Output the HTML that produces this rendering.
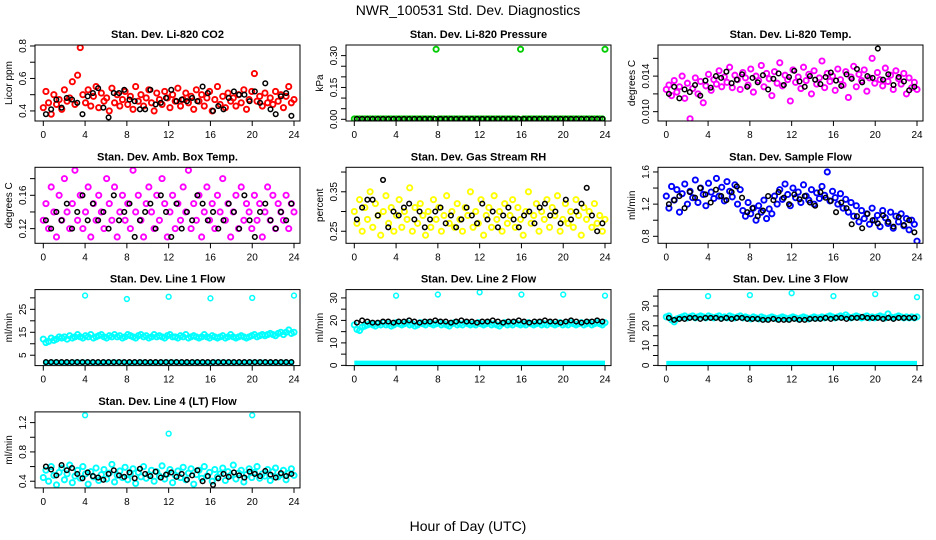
<!DOCTYPE html>
<html><head><meta charset="utf-8">
<style>
html,body{margin:0;padding:0;background:#fff;}
svg{display:block;font-family:"Liberation Sans",Helvetica,sans-serif;}
</style></head>
<body>
<svg id="chart" width="936" height="540" viewBox="0 0 936 540" xmlns="http://www.w3.org/2000/svg">
<text x="468" y="15" text-anchor="middle" font-size="14">NWR_100531  Std. Dev. Diagnostics</text>
<text x="468" y="531" text-anchor="middle" font-size="14">Hour of Day (UTC)</text>
</svg>
<script>
// ---- data (hours on x; std-dev values on y) ----
const co2Red=[0.42,0.52,0.45,0.38,0.50,0.44,0.47,0.41,0.53,0.46,0.48,0.58,0.44,0.62,0.79,0.50,0.45,0.53,0.43,0.49,0.55,0.42,0.51,0.46,0.48,0.40,0.54,0.45,0.50,0.43,0.47,0.52,0.44,0.49,0.41,0.55,0.46,0.50,0.43,0.48,0.53,0.45,0.40,0.51,0.47,0.44,0.52,0.48,0.42,0.50,0.46,0.54,0.43,0.47,0.51,0.45,0.49,0.41,0.53,0.46,0.50,0.43,0.48,0.52,0.40,0.47,0.55,0.44,0.49,0.42,0.51,0.46,0.48,0.43,0.50,0.45,0.53,0.41,0.47,0.52,0.63,0.46,0.49,0.43,0.51,0.45,0.48,0.44,0.52,0.46,0.50,0.42,0.49,0.55,0.45,0.47];
const co2Black=[0.38,0.41,0.47,0.42,0.48,0.47,0.45,0.38,0.49,0.51,0.54,0.42,0.36,0.51,0.51,0.53,0.47,0.46,0.41,0.41,0.53,0.44,0.45,0.48,0.53,0.46,0.47,0.46,0.48,0.46,0.55,0.51,0.40,0.43,0.41,0.48,0.52,0.50,0.50,0.46,0.52,0.45,0.57,0.41,0.38,0.49,0.51,0.37];
const presGreen=[0.002,0.002,0.002,0.002,0.002,0.002,0.002,0.002,0.002,0.002,0.002,0.002,0.002,0.002,0.002,0.002,0.002,0.002,0.002,0.002,0.002,0.002,0.002,0.002,0.002,0.002,0.002,0.002,0.002,0.002,0.002,0.33,0.002,0.002,0.002,0.002,0.002,0.002,0.002,0.002,0.002,0.002,0.002,0.002,0.002,0.002,0.002,0.002,0.002,0.002,0.002,0.002,0.002,0.002,0.002,0.002,0.002,0.002,0.002,0.002,0.002,0.002,0.002,0.33,0.002,0.002,0.002,0.002,0.002,0.002,0.002,0.002,0.002,0.002,0.002,0.002,0.002,0.002,0.002,0.002,0.002,0.002,0.002,0.002,0.002,0.002,0.002,0.002,0.002,0.002,0.002,0.002,0.002,0.002,0.002,0.33];
const presBlack=[0.002,0.002,0.002,0.002,0.002,0.002,0.002,0.002,0.002,0.002,0.002,0.002,0.002,0.002,0.002,0.002,0.002,0.002,0.002,0.002,0.002,0.002,0.002,0.002,0.002,0.002,0.002,0.002,0.002,0.002,0.002,0.002,0.002,0.002,0.002,0.002,0.002,0.002,0.002,0.002,0.002,0.002,0.002,0.002,0.002,0.002,0.002,0.002];
const tempMag=[0.0125,0.0130,0.0118,0.0135,0.0122,0.0128,0.0140,0.0115,0.0132,0.0092,0.0126,0.0138,0.0120,0.0134,0.0110,0.0129,0.0142,0.0124,0.0136,0.0131,0.0146,0.0128,0.0139,0.0133,0.0150,0.0127,0.0141,0.0136,0.0125,0.0144,0.0138,0.0130,0.0148,0.0122,0.0140,0.0135,0.0152,0.0128,0.0143,0.0137,0.0118,0.0145,0.0132,0.0155,0.0129,0.0141,0.0136,0.0112,0.0147,0.0133,0.0139,0.0126,0.0150,0.0135,0.0142,0.0120,0.0146,0.0131,0.0138,0.0157,0.0127,0.0143,0.0134,0.0140,0.0124,0.0148,0.0136,0.0130,0.0145,0.0116,0.0139,0.0151,0.0128,0.0142,0.0135,0.0147,0.0123,0.0138,0.0160,0.0132,0.0144,0.0136,0.0129,0.0149,0.0134,0.0141,0.0125,0.0146,0.0137,0.0131,0.0143,0.0120,0.0138,0.0127,0.0133,0.0125];
const tempBlack=[0.0120,0.0128,0.0115,0.0125,0.0122,0.0130,0.0118,0.0135,0.0127,0.0140,0.0138,0.0145,0.0132,0.0136,0.0142,0.0128,0.0138,0.0133,0.0141,0.0125,0.0137,0.0143,0.0130,0.0139,0.0146,0.0134,0.0128,0.0140,0.0136,0.0131,0.0139,0.0144,0.0135,0.0129,0.0142,0.0137,0.0148,0.0133,0.0140,0.0138,0.0171,0.0136,0.0142,0.0130,0.0139,0.0134,0.0124,0.0128];
const ambMag=[0.13,0.15,0.12,0.17,0.14,0.11,0.16,0.13,0.18,0.14,0.12,0.15,0.19,0.13,0.16,0.12,0.14,0.17,0.11,0.15,0.13,0.16,0.14,0.12,0.18,0.15,0.13,0.17,0.11,0.14,0.16,0.13,0.15,0.12,0.19,0.14,0.16,0.13,0.11,0.15,0.17,0.14,0.12,0.16,0.13,0.18,0.15,0.11,0.14,0.16,0.12,0.15,0.13,0.17,0.14,0.19,0.12,0.15,0.13,0.16,0.11,0.14,0.17,0.13,0.15,0.12,0.16,0.14,0.18,0.13,0.15,0.11,0.14,0.16,0.12,0.17,0.13,0.15,0.14,0.12,0.16,0.13,0.15,0.11,0.14,0.17,0.13,0.16,0.12,0.15,0.14,0.13,0.16,0.12,0.15,0.14];
const ambBlack=[0.13,0.12,0.14,0.13,0.15,0.12,0.14,0.16,0.13,0.15,0.13,0.14,0.12,0.16,0.13,0.14,0.15,0.11,0.13,0.14,0.15,0.12,0.16,0.14,0.11,0.15,0.12,0.14,0.13,0.16,0.15,0.13,0.14,0.12,0.13,0.15,0.14,0.12,0.16,0.13,0.11,0.14,0.15,0.13,0.12,0.14,0.13,0.15];
const rhYellow=[0.30,0.27,0.33,0.25,0.31,0.28,0.35,0.26,0.32,0.29,0.24,0.30,0.34,0.27,0.31,0.25,0.29,0.33,0.26,0.30,0.28,0.36,0.25,0.31,0.27,0.32,0.29,0.24,0.30,0.26,0.33,0.28,0.31,0.25,0.29,0.34,0.27,0.30,0.26,0.32,0.28,0.25,0.31,0.29,0.35,0.26,0.30,0.27,0.33,0.24,0.29,0.31,0.26,0.34,0.28,0.30,0.25,0.32,0.27,0.29,0.33,0.26,0.31,0.28,0.24,0.30,0.35,0.27,0.29,0.32,0.25,0.30,0.28,0.33,0.26,0.31,0.29,0.34,0.25,0.28,0.32,0.27,0.30,0.26,0.33,0.29,0.24,0.31,0.28,0.30,0.26,0.32,0.27,0.29,0.25,0.28];
const rhBlack=[0.28,0.31,0.33,0.33,0.29,0.38,0.26,0.30,0.29,0.31,0.32,0.28,0.30,0.26,0.28,0.30,0.31,0.27,0.29,0.26,0.28,0.31,0.29,0.27,0.32,0.28,0.30,0.26,0.29,0.31,0.28,0.26,0.29,0.30,0.27,0.31,0.32,0.29,0.30,0.27,0.33,0.28,0.30,0.32,0.36,0.29,0.25,0.27];
const flowBlue=[1.30,1.15,1.42,1.25,1.38,1.10,1.33,1.45,1.20,1.36,1.28,1.50,1.22,1.40,1.32,1.18,1.46,1.35,1.27,1.52,1.30,1.41,1.24,1.48,1.36,1.29,1.44,1.20,1.38,1.12,1.05,1.22,1.08,1.15,1.00,1.18,1.10,1.25,1.02,1.14,1.08,1.30,1.20,1.38,1.26,1.45,1.32,1.18,1.40,1.28,1.35,1.22,1.44,1.30,1.25,1.38,1.20,1.34,1.27,1.42,1.31,1.60,1.24,1.36,1.28,1.20,1.33,1.15,1.26,1.10,1.22,1.05,1.18,0.98,1.12,1.02,1.08,0.95,1.15,1.00,1.06,0.92,1.12,1.03,0.96,1.10,0.90,1.05,0.98,1.08,0.93,1.02,0.88,1.00,0.95,0.74];
const flowBlack=[1.20,1.25,1.30,1.15,1.35,1.28,1.40,1.32,1.22,1.38,1.30,1.25,1.35,1.42,1.28,1.10,1.15,1.05,1.12,1.30,1.25,1.35,1.28,1.20,1.32,1.26,1.30,1.22,1.18,1.35,1.28,1.24,1.10,1.22,1.15,0.95,1.05,0.90,1.08,1.00,0.96,1.06,0.98,0.92,1.04,0.94,1.00,0.85];
const line1High=[12,10.5,11,12.5,11.5,12,13,12.5,13,12,13.5,12.5,13,14,13,12.5,13.5,13,14,12.5,13,13.5,14,13,12.5,13.5,13,14,13,13.5,12.5,13,14,13.5,13,12.5,13.5,14,13,13.5,12.5,13,14,13,13.5,13,12.5,13.5,14,13,13,12.5,13.5,13,14,12.5,13,13.5,13,12.5,13,14,13,12.5,13.5,13,12.5,13,13.5,12.5,13,14,13,12.5,13,13.5,13,12.5,13,13.5,14,13,13.5,14,13.5,14,14.5,14,13.5,14.5,15,14,15,16,14.5,15];
const line1Low=[1.8,1.9,1.8,2.0,1.9,1.8,1.9,2.0,1.8,1.9,1.8,1.9,2.0,1.8,1.9,1.8,2.0,1.9,1.8,1.9,2.0,1.8,1.9,1.8];
const line1Black=[2,2,2,2,2,2,2,2,2,2,2,2,2,2,2,2,2,2,2,2,2,2,2,2,2,2,2,2,2,2,2,2,2,2,2,2,2,2,2,2,2,2,2,2,2,2,2,2];
const line1OutH=[4,8,12,16,20,24];
const line1OutV=[31,29.5,30.5,29.8,30,31];
const line2High=[18,16,15.5,17,17.5,18,18.5,18,17.5,18.5,18,19,18,18.5,17.5,18,19,18.5,18,18.5,19,18,18.5,17.5,18,19,18.5,18,19,18.5,18,18.5,19,18,18.5,18,17.5,18.5,19,18,18.5,18,19,18.5,18,18.5,18,19,18.5,18,18.5,19,18,18.5,18,17.5,18.5,19,18,18.5,18,19,18.5,18,18.5,18,19,18.5,18,18.5,19,18,18.5,18,19,18.5,18,18.5,19,18,18.5,18,19,18.5,18,18.5,19,18,18.5,19,18,18.5,19,18.5,18,19];
const line2Low=[1,1,1,1,1,1,1,1,1,1,1,1,1,1,1,1,1,1,1,1,1,1,1,1];
const line2Black=[19,20,19.5,19,19,19.5,19.5,19,19.5,19.5,20,19.5,19,19.5,19.5,20,19.5,19.5,19,19.5,20,19.5,19.5,19,19.5,19.5,20,19.5,19,19.5,19.5,20,19.5,19,19.5,19.5,20,19.5,19.5,19,19.5,20,19.5,19,19.5,19.5,20,19.5];
const line2OutH=[4,8,12,16,20,24];
const line2OutV=[31,31.5,32.5,31.5,31.5,31];
const line3High=[24.5,25,23,22,23.5,24,24.5,25,24,24.5,25,24,24.5,25,24.5,24,25,24.5,24,24.5,25,24,24.5,24,25,24.5,24,24.5,25,24,24.5,24,23.5,24.5,24,23.5,24.5,24,23.5,24,24.5,24,23.5,24,24.5,24,23.5,24,24.5,24,23.5,24,24.5,24,23.5,24,24.5,24,24,24.5,24,24.5,25,24.5,24,24.5,25,24.5,25.5,24.5,24,24.5,25,24.5,24,24.5,25,24,24.5,24,24.5,25,24.5,24,26,24.5,24,24.5,25,24.5,24,24.5,24,24.5,24,24.5];
const line3Low=[1,1,1,1,1,1,1,1,1,1,1,1,1,1,1,1,1,1,1,1,1,1,1,1];
const line3Black=[24,23,23.5,23.5,24,24,23.5,24,24,24,23.5,24,23.5,24,24,23.5,23.5,23.5,23,23,23.5,23,23,23,23.5,23,23,23.5,23.5,23.5,24,23.5,24,24,23.5,24,24,24.5,24,24,24,23.5,24,23.5,24,24,24,24];
const line3OutH=[4,8,12,16,20,24];
const line3OutV=[35,35.5,36.5,35,36,34.5];
const line4Cyan=[0.45,0.55,0.40,0.60,0.48,0.35,0.52,0.58,0.42,0.50,0.62,0.38,0.47,0.55,0.44,0.60,0.50,0.36,0.53,0.46,0.58,0.41,0.49,0.56,0.43,0.51,0.63,0.39,0.48,0.54,0.45,0.59,0.42,0.50,0.57,0.37,0.52,0.46,0.60,0.44,0.49,0.55,0.40,0.53,0.47,0.61,0.43,0.50,0.56,0.38,0.48,0.54,0.45,0.59,0.42,0.51,0.57,0.36,0.49,0.55,0.44,0.60,0.47,0.52,0.40,0.56,0.46,0.50,0.58,0.41,0.53,0.48,0.62,0.43,0.51,0.55,0.39,0.49,0.57,0.45,0.52,0.60,0.44,0.50,0.47,0.56,0.41,0.53,0.58,0.46,0.49,0.55,0.42,0.51,0.57,0.48];
const line4Black=[0.60,0.56,0.48,0.62,0.55,0.58,0.50,0.44,0.52,0.47,0.45,0.42,0.50,0.55,0.48,0.46,0.52,0.44,0.57,0.50,0.47,0.53,0.45,0.49,0.52,0.46,0.50,0.42,0.48,0.55,0.40,0.47,0.35,0.44,0.50,0.46,0.52,0.48,0.45,0.53,0.50,0.47,0.54,0.49,0.45,0.51,0.47,0.50];
const line4OutH=[4,12,20];
const line4OutV=[1.3,1.05,1.3];
const xTicks=[0,4,8,12,16,20,24];

const panels=[
 {n:'co2',title:'Stan. Dev. Li-820 CO2',ylab:'Licor ppm',c:0,r:0,ylim:[0.338,0.806],ticks:[0.4,0.5,0.6,0.7,0.8],labs:{0.4:'0.4',0.6:'0.6',0.8:'0.8'},col:'#ff0000',pts:co2Red,blk:co2Black},
 {n:'pressure',title:'Stan. Dev. Li-820 Pressure',ylab:'kPa',c:1,r:0,ylim:[-0.008,0.35],ticks:[0,0.05,0.1,0.15,0.2,0.25,0.3],labs:{0:'0.00',0.15:'0.15',0.3:'0.30'},col:'#00cc00',pts:presGreen,blk:presBlack},
 {n:'temp',title:'Stan. Dev. Li-820 Temp.',ylab:'degrees C',c:2,r:0,ylim:[0.00895,0.0175],ticks:[0.010,0.012,0.014,0.016],labs:{0.01:'0.010',0.014:'0.014'},col:'#ff00ff',pts:tempMag,blk:tempBlack},
 {n:'amb-box',title:'Stan. Dev. Amb. Box Temp.',ylab:'degrees C',c:0,r:1,ylim:[0.1024,0.1936],ticks:[0.12,0.14,0.16,0.18],labs:{0.12:'0.12',0.16:'0.16'},col:'#ff00ff',pts:ambMag,blk:ambBlack},
 {n:'gas-rh',title:'Stan. Dev. Gas Stream RH',ylab:'percent',c:1,r:1,ylim:[0.2195,0.412],ticks:[0.25,0.3,0.35,0.4],labs:{0.25:'0.25',0.35:'0.35'},col:'#ffff00',pts:rhYellow,blk:rhBlack},
 {n:'sample-flow',title:'Stan. Dev. Sample Flow',ylab:'ml/min',c:2,r:1,ylim:[0.713,1.658],ticks:[0.8,1.0,1.2,1.4,1.6],labs:{0.8:'0.8',1.2:'1.2',1.6:'1.6'},col:'#0000ff',pts:flowBlue,blk:flowBlack},
 {n:'line1',title:'Stan. Dev. Line 1 Flow',ylab:'ml/min',c:0,r:2,ylim:[0.48,33.6],ticks:[5,10,15,20,25,30],labs:{5:'5',15:'15',25:'25'},col:'#00ffff',pts:line1High,low:line1Low,blk:line1Black,oh:line1OutH,ov:line1OutV},
 {n:'line2',title:'Stan. Dev. Line 2 Flow',ylab:'ml/min',c:1,r:2,ylim:[-0.1,33.7],ticks:[0,5,10,15,20,25,30],labs:{0:'0',10:'10',20:'20',30:'30'},col:'#00ffff',pts:line2High,low:line2Low,blk:line2Black,oh:line2OutH,ov:line2OutV},
 {n:'line3',title:'Stan. Dev. Line 3 Flow',ylab:'ml/min',c:2,r:2,ylim:[-0.1,38.3],ticks:[0,5,10,15,20,25,30,35],labs:{0:'0',10:'10',20:'20',30:'30'},col:'#00ffff',pts:line3High,low:line3Low,blk:line3Black,oh:line3OutH,ov:line3OutV},
 {n:'line4',title:'Stan. Dev. Line 4 (LT) Flow',ylab:'ml/min',c:0,r:3,ylim:[0.309,1.346],ticks:[0.4,0.6,0.8,1.0,1.2],labs:{0.4:'0.4',0.8:'0.8',1.2:'1.2'},col:'#00ffff',pts:line4Cyan,blk:line4Black,oh:line4OutH,ov:line4OutV}
];

const NS='http://www.w3.org/2000/svg';
const svg=document.getElementById('chart');
function mk(tag,attrs,parent){const e=document.createElementNS(NS,tag);for(const k in attrs)e.setAttribute(k,attrs[k]);(parent||svg).appendChild(e);return e;}
const LEFTS=[35,346,658],W=265,H=76;

panels.forEach(p=>{
  const L=LEFTS[p.c],T=45+122.3*p.r,B=T+H;
  const g=mk('g',{});
  
  
  const xs=h=>L+8.3+h*(250.7/24);
  const ys=v=>B-(v-p.ylim[0])/(p.ylim[1]-p.ylim[0])*H;
  const clip=mk('clipPath',{id:'clip-'+p.n},g);
  mk('rect',{x:L,y:T,width:W,height:H},clip);
  const plot=mk('g',{'clip-path':'url(#clip-'+p.n+')'},g);
  
  
  if(p.low){
    const n=p.low.length;
    const pts=p.low.map((v,i)=>xs(i*24/(n-1)).toFixed(1)+','+ys(v).toFixed(1)).join(' ');
    const pl=mk('polyline',{points:pts,fill:'none',stroke:p.col,'stroke-width':5},plot);
    
    
  }
  const n=p.pts.length;
  p.pts.forEach((v,i)=>{
    const c=mk('circle',{cx:xs(i*24/(n-1)),cy:ys(v),r:2.6,fill:'none',stroke:p.col,'stroke-width':1.9},plot);
    
    
  });
  if(p.oh){
    p.oh.forEach((h,i)=>{
      const c=mk('circle',{cx:xs(h),cy:ys(p.ov[i]),r:2.4,fill:'none',stroke:p.col,'stroke-width':1.5},plot);
      
      
    });
  }
  const nb=p.blk.length;
  p.blk.forEach((v,i)=>{
    const c=mk('circle',{cx:xs((i+0.5)*24/nb),cy:ys(v),r:2.3,fill:'none',stroke:'#000','stroke-width':1.5},plot);
    
    
  });
  const box=mk('rect',{x:L,y:T,width:W,height:H,fill:'none',stroke:'#000','stroke-width':1},g);
  
  
  const tt=mk('text',{x:L+W/2,y:T-7,'text-anchor':'middle','font-size':11,'font-weight':'bold'},g);
  tt.textContent=p.title;
  
  
  xTicks.forEach(h=>{
    mk('line',{x1:xs(h),x2:xs(h),y1:B,y2:B+5,stroke:'#000'},g);
    const t=mk('text',{x:xs(h),y:B+17,'text-anchor':'middle','font-size':10},g);
    t.textContent=h;
    
    
  });
  p.ticks.forEach(v=>{
    const y=ys(v);
    mk('line',{x1:L-5,x2:L,y1:y,y2:y,stroke:'#000'},g);
    const lab=p.labs[v];
    if(lab!==undefined){
      const t=mk('text',{x:0,y:0,'text-anchor':'middle','font-size':10,transform:'translate('+(L-9)+','+y+') rotate(-90)'},g);
      t.textContent=lab;
      
      
    }
  });
  const yl=mk('text',{x:0,y:0,'text-anchor':'middle','font-size':10,transform:'translate('+(L-23)+','+(T+H/2)+') rotate(-90)'},g);
  yl.textContent=p.ylab;
  
  
});
</script>
</body></html>
